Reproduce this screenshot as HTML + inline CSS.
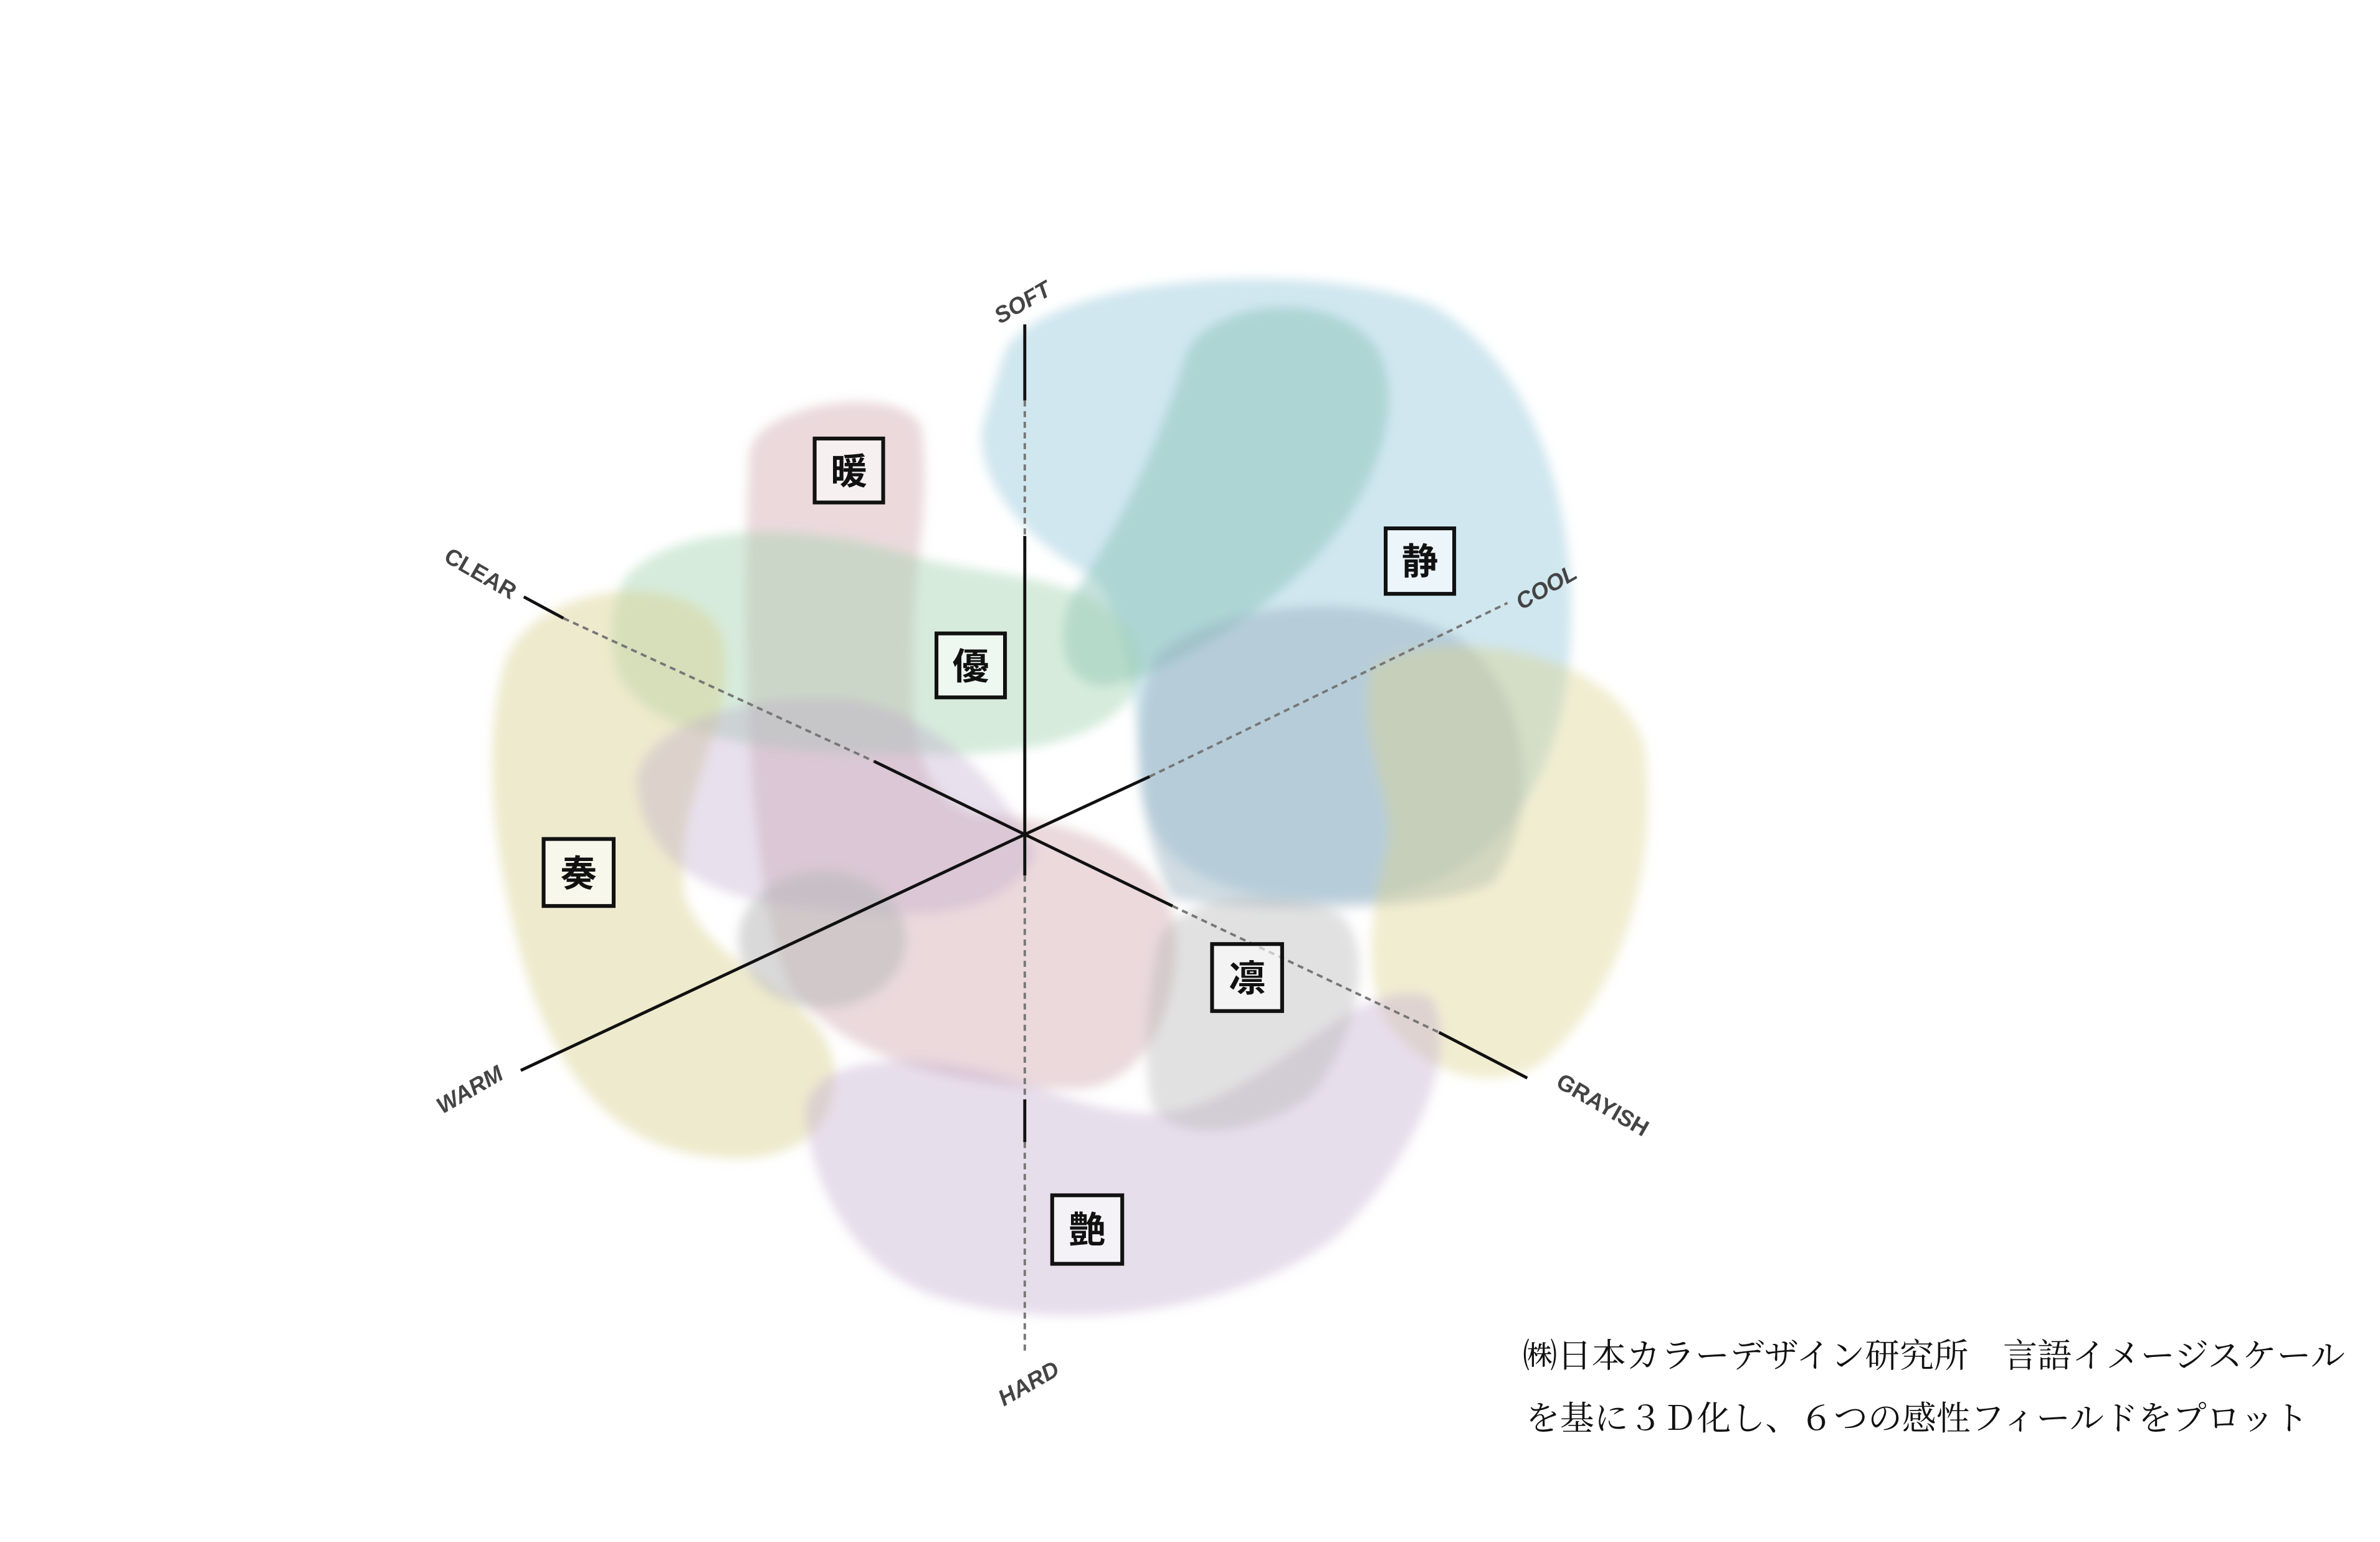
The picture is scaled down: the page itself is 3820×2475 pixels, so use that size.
<!DOCTYPE html>
<html><head><meta charset="utf-8"><style>
html,body{margin:0;padding:0;background:#fff;}
svg{display:block;}
</style></head><body>
<svg width="3820" height="2475" viewBox="0 0 1563 1012.7" preserveAspectRatio="none" xmlns="http://www.w3.org/2000/svg">
<defs><filter id="b" x="-20%" y="-20%" width="140%" height="140%"><feGaussianBlur stdDeviation="3.5"/></filter></defs>
<rect width="1563" height="1013" fill="#fff"/>
<g filter="url(#b)">
<path d="M 660,230 C 690,180 860,170 940,200 C 1010,240 1040,340 1030,440 C 1020,520 980,580 900,590 C 820,595 760,580 750,520 C 745,470 745,420 720,380 C 680,360 640,320 645,280 Z" fill="rgba(170,212,226,0.55)"/>
<path d="M 780,230 C 800,195 880,190 905,230 C 925,270 900,330 860,370 C 820,410 770,440 730,450 C 700,455 690,420 705,390 C 740,340 765,280 780,230 Z" fill="rgba(140,195,185,0.5)"/>
<path d="M 760,430 C 800,395 900,385 960,420 C 1010,460 1010,540 980,580 C 940,600 830,600 770,590 C 745,540 740,470 760,430 Z" fill="rgba(150,175,190,0.45)"/>
<path d="M 900,440 C 930,410 1060,420 1080,490 C 1090,560 1070,650 1010,700 C 970,720 930,700 910,670 C 895,640 900,600 910,560 C 920,530 890,490 900,440 Z" fill="rgba(220,210,140,0.4)"/>
<path d="M 492,300 C 492,265 590,250 605,280 C 612,330 600,370 600,420 C 598,480 600,520 640,535 C 700,535 760,560 770,600 C 780,640 760,720 700,715 C 640,715 560,700 520,650 C 495,600 485,450 492,300 Z" fill="rgba(205,160,168,0.4)"/>
<path d="M 410,380 C 440,345 520,340 600,365 C 650,380 720,375 745,420 C 765,470 700,500 600,495 C 520,495 440,490 410,450 C 398,430 400,400 410,380 Z" fill="rgba(165,210,178,0.45)"/>
<path d="M 330,440 C 345,380 460,370 475,420 C 485,480 440,520 450,590 C 470,640 540,650 548,700 C 552,750 510,765 470,760 C 400,755 360,700 340,620 C 322,550 318,490 330,440 Z" fill="rgba(218,208,145,0.45)"/>
<path d="M 418,510 C 428,470 500,455 560,460 C 620,470 660,520 680,560 C 660,605 600,605 520,595 C 460,590 418,560 418,510 Z" fill="rgba(190,165,200,0.35)"/>
<path d="M 530,740 C 520,700 580,690 630,700 C 690,710 740,750 800,720 C 860,690 900,640 940,655 C 960,690 930,760 880,810 C 820,860 700,880 610,850 C 560,830 535,780 530,740 Z" fill="rgba(195,172,208,0.4)"/>
<path d="M 760,620 C 770,590 830,580 880,600 C 910,630 880,700 860,720 C 820,750 760,750 755,720 C 750,680 755,650 760,620 Z" fill="rgba(180,180,180,0.4)"/>
<ellipse cx="540" cy="617" rx="55" ry="45" fill="rgba(185,185,185,0.55)"/>
</g>
<g stroke="#111" stroke-width="2" fill="none">
<line x1="673" y1="213" x2="673" y2="263"/>
<line x1="673" y1="352" x2="673" y2="575"/>
<line x1="673" y1="722" x2="673" y2="750"/>
<line x1="344" y1="392" x2="370" y2="406"/>
<line x1="574" y1="500" x2="673" y2="548"/>
<line x1="673" y1="548" x2="342" y2="703"/>
<line x1="673" y1="548" x2="755" y2="510"/>
<line x1="673" y1="548" x2="770" y2="595"/>
<line x1="945" y1="678" x2="1003" y2="708"/>
</g>
<g stroke="#777" stroke-width="1.6" stroke-dasharray="4,3" fill="none">
<line x1="673" y1="263" x2="673" y2="352"/>
<line x1="673" y1="575" x2="673" y2="722"/>
<line x1="673" y1="750" x2="673" y2="888"/>
<line x1="370" y1="406" x2="574" y2="500"/>
<line x1="755" y1="510" x2="990" y2="396"/>
<line x1="770" y1="595" x2="945" y2="678"/>
</g>
<g font-family="Liberation Sans, sans-serif" font-weight="bold" font-size="15" fill="#444" text-anchor="middle">
<text transform="translate(674,203) rotate(-30)" font-style="italic">SOFT</text>
<text transform="translate(313,381) rotate(30)">CLEAR</text>
<text transform="translate(1018,390) rotate(-30)" font-style="italic">COOL</text>
<text transform="translate(311,720) rotate(-30)" font-style="italic">WARM</text>
<text transform="translate(1050,730) rotate(30)">GRAYISH</text>
<text transform="translate(678,913) rotate(-30)" font-style="italic">HARD</text>
</g>
<g stroke="#111" stroke-width="2.5" fill="rgba(255,255,255,0.6)">
<rect x="535" y="288" width="45" height="42"/>
<rect x="615" y="416" width="45" height="42"/>
<rect x="910" y="347" width="45" height="43"/>
<rect x="357" y="551" width="46" height="44"/>
<rect x="796" y="620" width="46" height="44"/>
<rect x="691" y="785" width="46" height="45"/>
</g>
<g font-family="Liberation Sans, 'Noto Sans CJK JP', sans-serif" font-weight="bold" font-size="24" fill="#111" text-anchor="middle">
<text x="557.5" y="318">暖</text>
<text x="637.5" y="446">優</text>
<text x="932.5" y="377">静</text>
<text x="380" y="582">奏</text>
<text x="819" y="651">凛</text>
<text x="714" y="816">艶</text>
</g>
<g font-family="'Liberation Serif','Noto Serif CJK SC',serif" font-size="22" fill="#111">
<text x="1000" y="898" textLength="540" lengthAdjust="spacingAndGlyphs">㈱日本カラーデザイン研究所　言語イメージスケール</text>
<text x="1002" y="939" textLength="514" lengthAdjust="spacingAndGlyphs">を基に３Ｄ化し、６つの感性フィールドをプロット</text>
</g>
</svg>
</body></html>
